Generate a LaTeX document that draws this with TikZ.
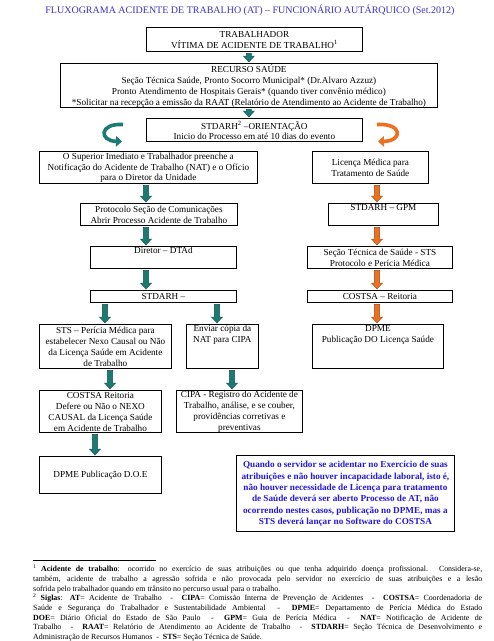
\documentclass[tikz,border=0pt]{standalone}
\usepackage{fontspec}
\setmainfont{Liberation Serif}
\usetikzlibrary{arrows.meta,calc}
\definecolor{titleblue}{RGB}{60,50,200}
\definecolor{noteblue}{RGB}{35,25,215}
\definecolor{tealA}{RGB}{28,122,116}
\definecolor{orangeA}{RGB}{236,112,32}
\tikzset{
  box/.style={draw=black, line width=0.8pt, anchor=north west, inner sep=0pt,
    font=\fontsize{9.2}{10.8}\selectfont},
  curvedarr/.style={line width=3.6pt, -{Triangle[length=6pt,width=10.5pt]}},
}
\newcommand\bxn[7]{%
  \node[box] (#1) at (#2,#3) {\parbox[c][\dimexpr #5pt-#3pt\relax][#6]{\dimexpr #4pt-#2pt\relax}{\centering\vspace*{1pt}#7\par}};}
\newcommand\barrow[3]{%
  \path[draw=#3!65!black, fill=#3, line width=0.4pt, line join=miter]
    let \p1=#1, \p2=#2 in
    (\x1-2.6pt,\y1-1.5pt) -- (\x1+2.6pt,\y1-1.5pt) -- (\x1+2.6pt,\y2+7pt) --
    (\x1+5.5pt,\y2+7pt) -- (\x1,\y2+1pt) -- (\x1-5.5pt,\y2+7pt) --
    (\x1-2.6pt,\y2+7pt) -- cycle;}
\begin{document}
\begin{tikzpicture}[x=1pt,y=-1pt]
\useasboundingbox[fill=white] (0,0) rectangle (494,641);

\node[font=\fontsize{10}{11}\selectfont, text=titleblue] (title) at (250,10)
  {FLUXOGRAMA ACIDENTE DE TRABALHO (AT) -- FUNCIONÁRIO AUTÁRQUICO (Set.2012)};

\bxn{b1}{146}{27}{362}{51}{c}{TRABALHADOR\\VÍTIMA DE ACIDENTE DE TRABALHO\textsuperscript{1}}
\bxn{b2}{60}{63}{437}{107}{c}{RECURSO SAÚDE\\Seção Técnica Saúde, Pronto Socorro Municipal* (Dr.Alvaro Azzuz)\\Pronto Atendimento de Hospitais Gerais* (quando tiver convênio médico)\\{}*Solicitar na recepção a emissão da RAAT (Relatório de Atendimento ao Acidente de Trabalho)}
\bxn{b3}{146}{118}{362}{141}{c}{STDARH\textsuperscript{2} --ORIENTAÇÃO\\Inicio do Processo em até 10 dias do evento}
\bxn{b4l}{39}{151}{257}{183}{c}{O Superior Imediato e Trabalhador preenche a\\Notificação do Acidente de Trabalho (NAT) e o Ofício\\para o Diretor da Unidade}
\bxn{b4r}{312}{151}{428}{183}{c}{Licença Médica para\\Tratamento de Saúde}
\bxn{b5l}{80}{203}{237}{225}{c}{Protocolo Seção de Comunicações\\Abrir Processo Acidente de Trabalho}
\bxn{b5r}{328}{203}{438}{225}{t}{STDARH -- GPM}
\bxn{b6l}{90}{246}{236}{268}{t}{Diretor -- DTAd}
\bxn{b6r}{307}{246}{452}{268}{c}{Seção Técnica de Saúde - STS\\Protocolo e Perícia Médica}
\bxn{b7l}{90}{290}{236}{302}{c}{STDARH --}
\bxn{b7r}{307}{290}{452}{302}{c}{COSTSA -- Reitoria}
\bxn{b8a}{39}{324}{171}{368}{c}{STS -- Perícia Médica para\\estabelecer Nexo Causal ou Não\\da Licença Saúde em Acidente\\de Trabalho}
\bxn{b8b}{186}{324}{258}{368}{t}{Enviar cópia da\\NAT para CIPA}
\bxn{b8c}{312}{324}{443}{368}{t}{DPME\\Publicação DO Licença Saúde}
\bxn{b9a}{39}{390}{161}{432}{c}{COSTSA Reitoria\\Defere ou Não o NEXO\\CAUSAL da Licença Saúde\\em Acidente de Trabalho}
\bxn{b9b}{176}{390}{302}{432}{c}{CIPA - Registro do Acidente de\\Trabalho, análise, e se couber,\\providências corretivas e\\preventivas}
\bxn{b10}{39}{456}{161}{493}{c}{DPME Publicação D.O.E}
\bxn{b11}{236}{455}{454}{531}{c}{\color{noteblue}\bfseries\fontsize{9.2}{11.3}\selectfont Quando o servidor se acidentar no Exercício de suas\\atribuições e não houver incapacidade laboral, isto é,\\não houver necessidade de Licença para tratamento\\de Saúde deverá ser aberto Processo de AT, não\\ocorrendo nestes casos, publicação no DPME, mas a\\STS deverá lançar no Software do COSTSA}

% column coordinates for arrows
\coordinate (lc) at (146,0);
\coordinate (rc) at (377,0);
\coordinate (xa) at (105,0);
\coordinate (xb) at (217,0);
\coordinate (xc) at (110,0);
\coordinate (xd) at (232,0);
\coordinate (xe) at (95,0);

\barrow{(b2.north |- b1.south)}{(b2.north)}{tealA}
\barrow{(b2.south)}{(b2.south |- b3.north)}{tealA}
\barrow{(lc |- b4l.south)}{(lc |- b5l.north)}{tealA}
\barrow{(lc |- b5l.south)}{(lc |- b6l.north)}{tealA}
\barrow{(lc |- b6l.south)}{(lc |- b7l.north)}{tealA}
\barrow{(xa |- b7l.south)}{(xa |- b8a.north)}{tealA}
\barrow{(xb |- b7l.south)}{(xb |- b8b.north)}{tealA}
\barrow{(xc |- b8a.south)}{(xc |- b9a.north)}{tealA}
\barrow{(xd |- b8b.south)}{(xd |- b9b.north)}{tealA}
\barrow{(xe |- b9a.south)}{(xe |- b10.north)}{tealA}
\barrow{(rc |- b4r.south)}{(rc |- b5r.north)}{orangeA}
\barrow{(rc |- b5r.south)}{(rc |- b6r.north)}{orangeA}
\barrow{(rc |- b6r.south)}{(rc |- b7r.north)}{orangeA}
\barrow{(rc |- b7r.south)}{(rc |- b8c.north)}{orangeA}

% curved arrows
\draw[curvedarr, tealA] (123,124.5) .. controls (99,123) and (99,141) .. (122,141.5);
\draw[curvedarr, orangeA] (377,124.5) .. controls (403,123) and (403,141) .. (378,141.5);

% footnotes
\draw[line width=0.6pt] (33,560) -- (156,560);
\node[anchor=north west, inner sep=0pt, font=\fontsize{7.9}{9.7}\selectfont] (fn) at (33,565)
{\parbox{449pt}{\textsuperscript{1} \textbf{Acidente de trabalho}: ocorrido no exercício de suas atribuições ou que tenha adquirido doença profissional. Considera-se,\linebreak
também, acidente de trabalho a agressão sofrida e não provocada pelo servidor no exercício de suas atribuições e a lesão\linebreak
sofrida pelo trabalhador quando em trânsito no percurso usual para o trabalho.\par
\textsuperscript{2} \textbf{Siglas}: \textbf{AT}= Acidente de Trabalho~ - ~\textbf{CIPA}= Comissão Interna de Prevenção de Acidentes~ - ~\textbf{COSTSA}= Coordenadoria de\linebreak
Saúde e Segurança do Trabalhador e Sustentabilidade Ambiental~ - ~\textbf{DPME}= Departamento de Perícia Médica do Estado\linebreak
\textbf{DOE}= Diário Oficial do Estado de São Paulo~ - ~\textbf{GPM}= Guia de Perícia Médica~ - ~\textbf{NAT}= Notificação de Acidente de\linebreak
Trabalho~ - ~\textbf{RAAT}= Relatório de Atendimento ao Acidente de Trabalho~ - ~\textbf{STDARH}= Seção Técnica de Desenvolvimento e\linebreak
Administração de Recursos Humanos~ - ~\textbf{STS}= Seção Técnica de Saúde.}};
\end{tikzpicture}
\end{document}
